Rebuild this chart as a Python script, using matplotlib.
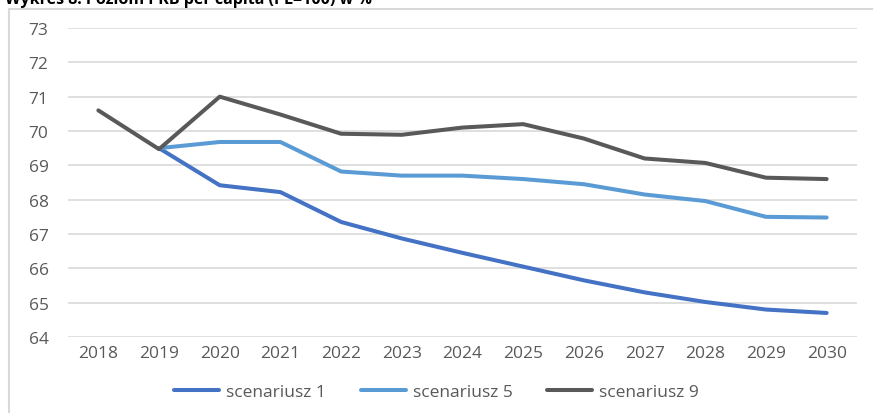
import matplotlib
matplotlib.use("Agg")
import matplotlib.pyplot as plt
from matplotlib.patches import Rectangle
import numpy as np

years = ["2018", "2019", "2020", "2021", "2022", "2023", "2024",
         "2025", "2026", "2027", "2028", "2029", "2030"]
scen1 = [None, 69.5, 68.42, 68.22, 67.35, 66.87, 66.45, 66.05, 65.65, 65.3, 65.02, 64.8, 64.7]
scen5 = [None, 69.5, 69.68, 69.68, 68.82, 68.7, 68.7, 68.6, 68.45, 68.15, 67.96, 67.5, 67.48]
scen9 = [70.6, 69.47, 71.0, 70.48, 69.92, 69.89, 70.1, 70.2, 69.78, 69.2, 69.07, 68.64, 68.6]
series_names = ["scenariusz 1", "scenariusz 5", "scenariusz 9"]
title = "Wykres 8. Poziom PKB per capita (PL=100) w %"

colors = ["#4472C4", "#5B9BD5", "#595959"]

plt.rcParams['font.family'] = ['Open Sans', 'DejaVu Sans']

W, H = 873, 414
fig = plt.figure(figsize=(W / 100, H / 100), dpi=100)

# outer chart frame (cut off at right and bottom)
frame = Rectangle((9 / W, -0.1), 1.2, (H - 10) / H + 0.1, transform=fig.transFigure,
                  facecolor="white", edgecolor="#D9D9D9", lw=1.5, zorder=-5)
fig.patches.append(frame)

ax = fig.add_axes([68 / W, 1 - 338 / H, (857 - 68) / W, (338 - 29) / H], zorder=2)
ax.set_facecolor("none")
x = np.arange(len(years))
for vals, c, name in zip([scen1, scen5, scen9], colors, series_names):
    arr = np.array([np.nan if v is None else v for v in vals], dtype=float)
    ax.plot(x, arr, color=c, lw=2.9, label=name, solid_capstyle="round", solid_joinstyle="round")

ax.set_xlim(-0.5, len(years) - 0.5)
ax.set_ylim(64, 73)
ax.set_yticks(np.arange(64, 74, 1))
ax.set_xticks(x)
ax.set_xticklabels(years)
ax.grid(axis="y", color="#D9D9D9", lw=1.2)
ax.set_axisbelow(True)
for s in ax.spines.values():
    s.set_visible(False)
ax.tick_params(axis="both", length=0, colors="#595959", labelsize=12.5)
ax.tick_params(axis="y", pad=14)
ax.tick_params(axis="x", pad=6)

fig.legend(loc="center", bbox_to_anchor=(0.5, 1 - 393 / H), ncol=3, frameon=False,
           fontsize=12.5, handlelength=2.6, handletextpad=0.4, columnspacing=2.0,
           labelcolor="#595959")

fig.text(5 / W, 1 - 4 / H, title, fontsize=11.5, fontweight="bold", color="black",
         va="baseline", ha="left")

fig.savefig("out.png", dpi=100)
